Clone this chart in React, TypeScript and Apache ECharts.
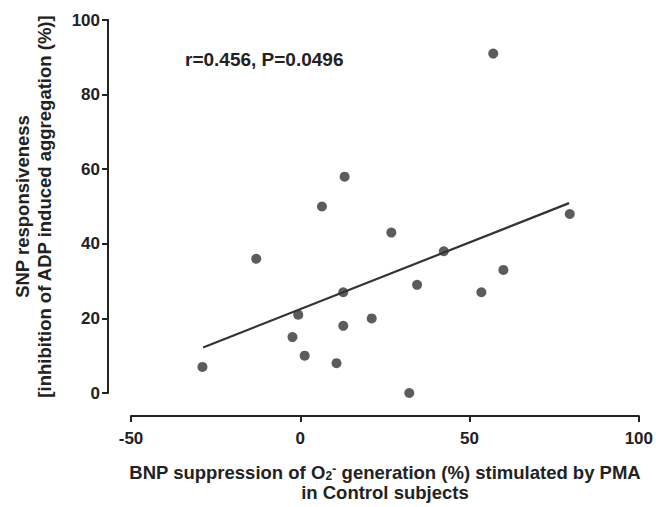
import React, { useEffect, useRef } from "react";
import * as echarts from "echarts";

// Data
const xValues = [57, 13.1, 6.4, 26.9, -13, 79.6, 42.4, 60, 34.5, 12.7, 53.5, -0.6, 21.1, -2.3, 12.7, 1.3, 10.7, -28.9, 32.2];
const yValues = [91, 58, 50, 43, 36, 48, 38, 33, 29, 27, 27, 21, 20, 15, 18, 10, 8, 7, 0];
const fitX = [-28.7, 79.4];
const fitY = [12.2, 50.9];
const xTicks = { min: -50, max: 100, interval: 50 };
const yTicks = { min: 0, max: 100, interval: 20 };
const annotation = "r=0.456, P=0.0496";
const xTitle = "BNP suppression of O{sub|2}{sup|-} generation (%) stimulated by PMA\nin Control subjects";
const yTitle = "SNP responsiveness\n[inhibition of ADP induced aggregation (%)]";

const FONT = "'Liberation Sans', Arial, Helvetica, sans-serif";
const INK = "#222222";

export default function App() {
  const ref = useRef<HTMLDivElement>(null);
  useEffect(() => {
    if (!ref.current) return;
    const chart = echarts.init(ref.current, undefined, { renderer: "svg" });
    const points = xValues.map((x, i) => [x, yValues[i]]);
    const fit = fitX.map((x, i) => [x, fitY[i]]);
    const axisCommon = {
      axisLine: { show: true, onZero: false, lineStyle: { color: INK, width: 2 } },
      axisTick: { show: true, inside: false, length: 6, lineStyle: { color: INK, width: 2 } },
      splitLine: { show: false },
      nameLocation: "middle" as const,
    };
    chart.setOption({
      animation: false,
      backgroundColor: "#ffffff",
      grid: { left: 131, right: 15, top: 20, bottom: 111, containLabel: false },
      xAxis: {
        type: "value",
        ...axisCommon,
        min: xTicks.min,
        max: xTicks.max,
        interval: xTicks.interval,
        offset: 23,
        axisLabel: { fontSize: 17, fontWeight: "bold", color: INK, fontFamily: FONT, margin: 14 },
        name: xTitle,
        nameGap: 46,
        nameTextStyle: {
          fontSize: 18.5,
          fontWeight: "bold",
          color: INK,
          fontFamily: FONT,
          lineHeight: 20,
          rich: {
            sub: { fontSize: 12, fontWeight: "bold", color: INK, fontFamily: FONT, lineHeight: 12, verticalAlign: "bottom" },
            sup: { fontSize: 13, fontWeight: "bold", color: INK, fontFamily: FONT, lineHeight: 12, verticalAlign: "top" },
          },
        },
      },
      yAxis: {
        type: "value",
        ...axisCommon,
        min: yTicks.min,
        max: yTicks.max,
        interval: yTicks.interval,
        offset: 23,
        axisLabel: { fontSize: 17, fontWeight: "bold", color: INK, fontFamily: FONT, margin: 8 },
        name: yTitle,
        nameGap: 53,
        nameTextStyle: { fontSize: 18.5, fontWeight: "bold", color: INK, fontFamily: FONT, lineHeight: 22 },
      },
      graphic: [
        {
          type: "text",
          left: 185,
          top: 50,
          style: { text: annotation, fontSize: 19, fontWeight: "bold", fill: INK, fontFamily: FONT },
        },
      ],
      series: [
        {
          type: "line",
          data: fit,
          symbol: "none",
          lineStyle: { color: "#333333", width: 2.2 },
          silent: true,
          z: 2,
        },
        {
          type: "scatter",
          data: points,
          symbol: "circle",
          symbolSize: 10,
          itemStyle: { color: "#333333" },
          z: 3,
        },
      ],
    });
    return () => chart.dispose();
  }, []);
  return (
    <div
      ref={ref}
      style={{ position: "absolute", left: 0, top: 0, width: 656, height: 507, background: "#fff" }}
    />
  );
}
